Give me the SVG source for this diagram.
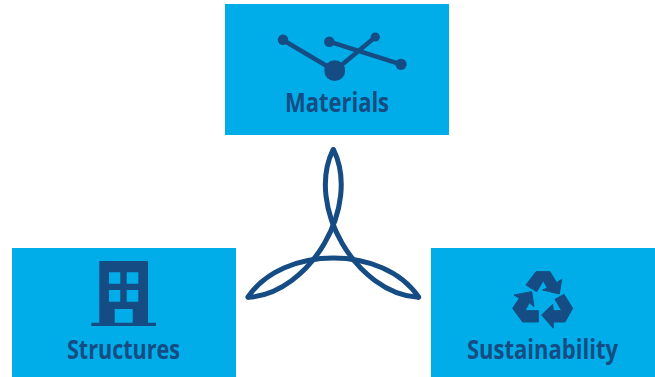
<svg xmlns="http://www.w3.org/2000/svg" width="655" height="377" viewBox="0 0 655 377">
<defs><path id="arc" d="M248 297C283 245 383.600 245 418.600 297"/></defs>
<style>
.box{fill:#01ade8}
.ink{fill:#154c84}
.lbl{fill:#154c84;font-family:"Open Sans","Noto Sans",sans-serif;font-weight:700;font-size:26px;text-anchor:middle}
.ln{stroke:#154c84;stroke-width:4.4;fill:none}
.petal{stroke:#154c84;stroke-width:5;fill:none;stroke-linecap:round}
.rec{stroke:#154c84;stroke-width:3;stroke-linejoin:round}
</style>
<rect width="655" height="377" fill="#fff"/>
<g id="materials">
<rect class="box" x="225" y="4" width="224" height="131"/>
<path class="ln" d="M283 40L334.700 70.700L375.300 37M329.300 41.700L401 64.300"/>
<circle class="ink" cx="283" cy="39.700" r="5.200"/><circle class="ink" cx="329.300" cy="41.700" r="5.200"/><circle class="ink" cx="375.300" cy="37" r="4.600"/><circle class="ink" cx="401" cy="64.300" r="5.600"/><circle class="ink" cx="334.700" cy="70.700" r="10.400"/>
<text class="lbl" x="337" y="112" textLength="104" lengthAdjust="spacingAndGlyphs">Materials</text>
</g>
<g id="structures">
<rect class="box" x="12" y="248" width="224" height="129"/>
<path class="ink" fill-rule="evenodd" d="M99.300 261H148V322.700H156V326H91.300V322.700H99.300ZM109 272.300V283.700H120.300V272.300ZM126.700 272.300V283.700H138.300V272.300ZM109 290V301.700H120.300V290ZM126.700 290V301.700H138.300V290ZM114.700 309V322.700H132.700V309Z"/>
<text class="lbl" x="123.500" y="359" textLength="113" lengthAdjust="spacingAndGlyphs">Structures</text>
</g>
<g id="sustainability">
<rect class="box" x="431" y="248" width="224" height="129"/>
<g transform="translate(460 260) scale(.3333)">
<path class="ink rec" d="M198 75L228 35H270L290 68L305 58L298 102L248 90L262 84L250 62L230 95Z"/>
<path class="ink rec" d="M162 105L215 95L222 140L208 128L195 152H235V186H188L158 145L178 115Z"/>
<path class="ink rec" d="M312 103L338 145L315 186H280V205L245 165L278 133L280 152H305L285 118Z"/>
</g>
<text class="lbl" x="542.500" y="359" textLength="151" lengthAdjust="spacingAndGlyphs">Sustainability</text>
</g>
<g id="trefoil">
<use href="#arc" class="petal"/>
<use href="#arc" class="petal" transform="rotate(120 333.3 248)"/>
<use href="#arc" class="petal" transform="rotate(240 333.3 248)"/>
</g>
</svg>
